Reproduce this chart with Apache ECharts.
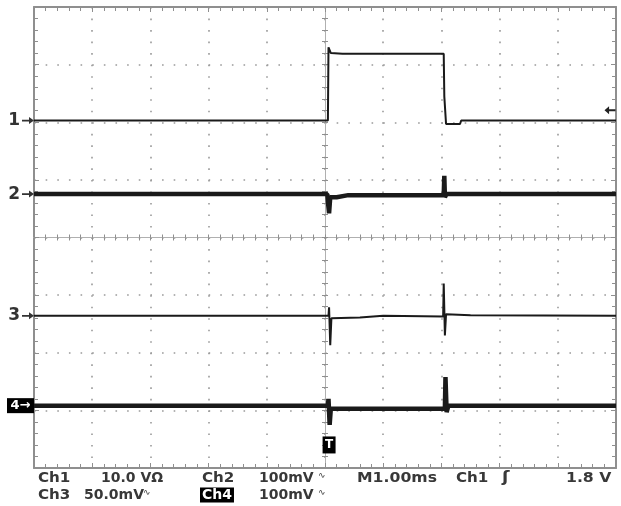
<!DOCTYPE html>
<html><head><meta charset="utf-8">
<script src="https://cdn.jsdelivr.net/npm/echarts@6/dist/echarts.min.js"></script>
<style>html,body{margin:0;padding:0;background:#fff}#c{width:621px;height:506px}</style>
</head><body><div id="c"></div>
<script>
// time in ms (1.00 ms/div, trigger at centre), amplitude in screen divisions
const ch1 = [[-5,2.03],[0.05,2.03],[0.06,3.30],[0.1,3.20],[0.3,3.19],[2.04,3.19],[2.05,2.45],[2.07,2.45],[2.08,1.97],[2.32,1.97],[2.34,2.03],[5,2.03]];
const ch2 = [[-5,0.753],[0.04,0.753],[0.05,0.62],[0.07,0.42],[0.09,0.70],[0.2,0.70],[0.4,0.735],[2.04,0.735],[2.05,1.07],[2.06,0.70],[2.09,0.76],[5,0.753]];
const ch3 = [[-5,-1.36],[0.06,-1.36],[0.07,-1.21],[0.09,-1.87],[0.11,-1.40],[0.6,-1.39],[1.0,-1.36],[2.03,-1.37],[2.04,-0.80],[2.06,-1.70],[2.08,-1.33],[2.5,-1.35],[5,-1.36]];
const ch4 = [[-5,-2.918],[0.05,-2.918],[0.06,-2.80],[0.08,-3.25],[0.10,-2.97],[2.06,-2.97],[2.07,-2.42],[2.09,-3.03],[2.12,-2.92],[5,-2.918]];
const channelLabels = ['1','2','3','4'];
const groundLevels = [2.03, 0.753, -1.36, -2.918];
const triggerLevel = 2.208;      // Ch1 1.8 V
const triggerTime = 0.07;
const triggerMarkLevel = -3.6;
const readoutRow1 = ['Ch1','10.0 V\u03A9','Ch2','100mV','M1.00ms','Ch1','\u0283','1.8 V'];
const readoutRow2 = ['Ch3','50.0mV','Ch4','100mV'];

const GRID = '#8f8f8f';
const TRACE = '#1a1a1a';
const TEXT = '#383838';

function borderAxis(pos){
  return {type:'value', min:-5, max:5, interval:1, position:pos,
    axisLine:{show:true, onZero:false, lineStyle:{color:GRID, width:2}},
    axisTick:{show:true, inside:true, length:5, lineStyle:{color:GRID, width:1}},
    minorTick:{show:true, splitNumber:5, length:4, lineStyle:{color:GRID, width:1}},
    axisLabel:{show:false}, splitLine:{show:false}, minorSplitLine:{show:false}};
}
function centreAxis(pos){
  return {type:'value', min:-5, max:5, interval:1, position:pos,
    axisLine:{show:true, onZero:true, onZeroAxisIndex:0, lineStyle:{color:'#b0b0b0', width:1}},
    axisTick:{show:true, inside:true, length:3, lineStyle:{color:GRID, width:1}},
    minorTick:{show:true, splitNumber:5, length:3, lineStyle:{color:GRID, width:1}},
    axisLabel:{show:false}, splitLine:{show:false}};
}
const xMain = borderAxis('bottom');
xMain.splitLine = {show:true, lineStyle:{color:'#9a9a9a', width:1.6, type:[1.6, 9.925]}};
const yMain = borderAxis('left');
yMain.min = -4; yMain.max = 4;
yMain.splitLine = {show:true, lineStyle:{color:'#9a9a9a', width:1.6, type:[1.6, 10.04]}};
const yTop = borderAxis('right'); yTop.min=-4; yTop.max=4;
const yC1 = centreAxis('left'); yC1.min=-4; yC1.max=4;
const yC2 = centreAxis('right'); yC2.min=-4; yC2.max=4;

const arrowRight = 'path://M0,3 L7,3 L7,0 L12,4 L7,8 L7,5 L0,5 Z';
const arrowLeft = 'path://M12,3 L5,3 L5,0 L0,4 L5,8 L5,5 L12,5 Z';

function groundMark(i){
  if (i === 3) {
    return {coord:[-5, groundLevels[i]], symbol:'rect', symbolSize:[27,15], symbolOffset:[-13.5,0],
      itemStyle:{color:'#000'},
      label:{show:true, position:'inside', formatter:channelLabels[i]+'\u2192', color:'#fff', fontSize:13, fontWeight:'bold', fontFamily:'DejaVu Sans'}};
  }
  return {coord:[-5, groundLevels[i]], symbol:arrowRight, symbolSize:[12,7], symbolOffset:[-6,0],
    itemStyle:{color:'#333'},
    label:{show:true, position:'left', distance:2, formatter:channelLabels[i], color:'#333', fontSize:17, fontWeight:'bold', fontFamily:'DejaVu Sans'}};
}

const traces = [ch1, ch2, ch3, ch4];
const widths = [2, 4.5, 2, 4.5];
const series = traces.map((d, i) => {
  const marks = [groundMark(i)];
  if (i === 0) marks.push({coord:[5, triggerLevel], symbol:arrowLeft, symbolSize:[11,8], symbolOffset:[-6,0], itemStyle:{color:'#222'}, label:{show:false}});
  if (i === 3) marks.push({coord:[triggerTime, triggerMarkLevel], symbol:'rect', symbolSize:[13,17], itemStyle:{color:'#000'},
      label:{show:true, position:'inside', formatter:'T', color:'#fff', fontSize:12, fontWeight:'bold', fontFamily:'DejaVu Sans'}});
  return {type:'line', name:'Ch'+channelLabels[i], data:d, xAxisIndex:0, yAxisIndex:0,
    showSymbol:false, symbol:'none', animation:false, silent:true, z:5,
    lineStyle:{color:TRACE, width:widths[i], join:'bevel', cap:'butt'},
    emphasis:{disabled:true},
    markPoint:{silent:true, animation:false, data:marks}};
});

function txt(s, x, y, opt){
  opt = opt || {};
  return {type:'text', x:x, y:y, scaleX:opt.sx || 1.08, silent:true, z:10,
    style:{text:s, fill:opt.fill || TEXT, font:(opt.weight||'bold')+' '+(opt.size||14)+'px "DejaVu Sans"',
      textVerticalAlign:'middle', backgroundColor:opt.bg, padding:opt.pad}};
}
const r1 = 478, r2 = 495;
const graphic = [
  txt(readoutRow1[0], 38, r1),
  txt(readoutRow1[1], 101, r1, {sx:1.0}),
  txt(readoutRow1[2], 202, r1),
  txt(readoutRow1[3], 259, r1, {sx:1.0}),
  txt('\u223F', 318, r1-2, {size:9, sx:1, weight:'normal'}),
  txt(readoutRow1[4], 357, r1, {sx:1.12}),
  txt(readoutRow1[5], 456, r1),
  txt(readoutRow1[6], 502, r1, {size:15, sx:1.2}),
  txt(readoutRow1[7], 566, r1, {sx:1.12}),
  txt(readoutRow2[0], 38, r2),
  txt(readoutRow2[1], 84, r2, {sx:1.0}),
  txt('\u223F', 143, r2-2, {size:9, sx:1, weight:'normal'}),
  txt(readoutRow2[2], 200, r2, {fill:'#fff', bg:'#000', pad:[1,2,0,2], sx:1.0}),
  txt(readoutRow2[3], 259, r2, {sx:1.0}),
  txt('\u223F', 318, r2-2, {size:9, sx:1, weight:'normal'})
];

const chart = echarts.init(document.getElementById('c'), null, {renderer:'canvas'});
chart.setOption({
  backgroundColor:'#fff',
  animation:false,
  grid:{left:34, right:5, top:7, bottom:38, show:false, outerBoundsMode:'none'},
  xAxis:[xMain, borderAxis('top'), centreAxis('bottom'), centreAxis('top')],
  yAxis:[yMain, yTop, yC1, yC2],
  series:series,
  graphic:graphic
});
</script></body></html>
